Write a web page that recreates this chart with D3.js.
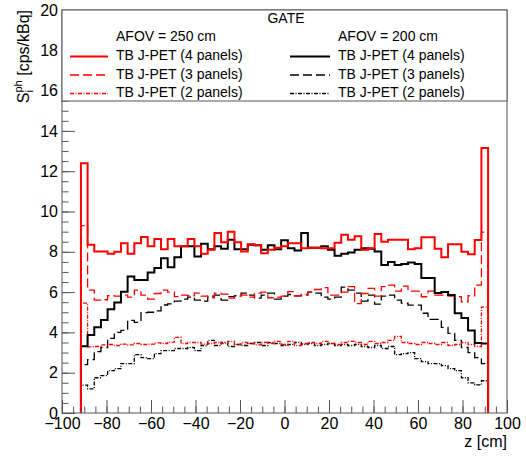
<!DOCTYPE html>
<html>
<head>
<meta charset="utf-8">
<script src="https://cdn.jsdelivr.net/npm/d3@7"></script>
<style>
body { margin:0; background:#fff; }
svg text { font-family: "Liberation Sans", Arial, Helvetica, sans-serif; fill:#000; }
</style>
</head>
<body>
<div id="canvas1"></div>
<script>

// histogram binning (same for all six curves)
var binLo = -91.5;
var binHi = 91.5;
var nBins = 61;

var xTicks = [-100, -80, -60, -40, -20, 0, 20, 40, 60, 80, 100];
var yTicks = [0, 2, 4, 6, 8, 10, 12, 14, 16, 18, 20];

var title = "GATE";
var afovHeads = ["AFOV = 250 cm", "AFOV = 200 cm"];
var panelLabels = ["TB J-PET (4 panels)", "TB J-PET (3 panels)", "TB J-PET (2 panels)"];

// AFOV = 250 cm (red)
var afov250_4 = [12.4, 8.35, 8.02, 8.02, 7.9, 8.0, 8.43, 7.9, 8.43, 8.73,
                 8.27, 8.63, 8.13, 8.63, 8.27, 8.27, 8.63, 8.27, 7.9, 8.1,
                 8.93, 8.47, 9.0, 8.47, 8.02, 8.37, 8.33, 7.93, 8.1, 8.2,
                 8.27, 8.43, 8.43, 8.18, 8.2, 8.2, 8.18, 8.18, 8.45, 8.85,
                 8.6, 8.77, 8.1, 8.18, 8.88, 8.5, 8.6, 8.6, 8.6, 8.13,
                 8.18, 8.72, 8.72, 8.15, 7.73, 8.38, 8.38, 8.0, 7.88, 8.59, 13.15];
var afov250_3 = [9.3, 6.1, 5.6, 5.62, 5.82, 5.8, 5.85, 5.75, 6.1, 5.85,
                 5.65, 5.93, 6.1, 6.0, 5.78, 5.85, 5.82, 5.95, 5.8, 5.72,
                 5.95, 5.9, 5.7, 5.8, 5.85, 5.75, 5.95, 6.0, 5.72, 5.75,
                 5.8, 6.02, 5.82, 5.88, 6.0, 6.13, 6.22, 5.85, 5.85, 6.0,
                 6.27, 5.43, 5.93, 6.18, 5.8, 6.27, 6.35, 6.05, 6.3, 6.05,
                 6.05, 5.77, 6.05, 5.85, 5.85, 5.8, 5.77, 5.52, 5.82, 6.35, 8.98];
var afov250_2 = [5.45, 3.28, 3.3, 3.38, 3.4, 3.35, 3.42, 3.38, 3.45, 3.4,
                 3.42, 3.48, 3.45, 3.52, 3.75, 3.45, 3.5, 3.5, 3.42, 3.45,
                 3.5, 3.45, 3.55, 3.4, 3.5, 3.45, 3.38, 3.5, 3.45, 3.55,
                 3.4, 3.55, 3.35, 3.45, 3.5, 3.45, 3.55, 3.45, 3.4, 3.5,
                 3.55, 3.5, 3.4, 3.55, 3.45, 3.5, 3.6, 3.8, 3.5, 3.45,
                 3.4, 3.5, 3.45, 3.4, 3.5, 3.35, 3.4, 3.5, 3.4, 3.3, 5.25];

// AFOV = 200 cm (black)
var afov200_4 = [3.31, 3.87, 4.25, 4.62, 5.15, 5.48, 6.02, 6.77, 6.6, 6.6,
                 6.97, 7.2, 7.68, 7.23, 7.73, 8.27, 8.27, 7.77, 8.4, 8.13,
                 8.27, 8.15, 8.6, 8.13, 8.13, 8.35, 8.32, 8.1, 8.32, 8.13,
                 8.57, 8.18, 8.07, 8.93, 8.2, 8.2, 8.27, 8.1, 7.8, 7.9,
                 7.97, 8.1, 8.18, 8.15, 8.02, 7.35, 7.5, 7.35, 7.4, 7.47,
                 7.4, 6.7, 6.7, 5.95, 6.0, 5.85, 4.95, 4.72, 4.1, 3.47, 3.45];
var afov200_3 = [2.4, 2.65, 3.05, 3.25, 3.7, 4.0, 4.1, 4.6, 4.5, 4.98,
                 5.0, 5.07, 5.36, 5.42, 5.55, 5.65, 5.75, 5.6, 5.55, 5.8,
                 5.85, 5.6, 5.78, 5.82, 5.95, 5.85, 5.7, 5.85, 5.95, 5.65,
                 5.8, 5.88, 5.82, 5.85, 6.0, 5.95, 5.75, 5.65, 5.75, 6.25,
                 6.1, 5.95, 5.55, 5.85, 5.4, 5.8, 5.85, 5.6, 5.45, 5.35,
                 5.35, 4.95, 4.65, 4.65, 4.25, 3.95, 3.6, 3.25, 3.0, 2.75, 2.45];
var afov200_2 = [1.38, 1.2, 1.75, 1.85, 2.1, 2.2, 2.45, 2.45, 2.9, 2.75,
                 2.7, 2.95, 3.1, 3.1, 3.2, 3.2, 3.25, 3.1, 3.35, 3.6,
                 3.35, 3.5, 3.3, 3.4, 3.35, 3.45, 3.5, 3.35, 3.5, 3.45,
                 3.35, 3.4, 3.5, 3.4, 3.45, 3.35, 3.4, 3.45, 3.35, 3.4,
                 3.35, 3.4, 3.3, 3.25, 3.35, 3.2, 3.3, 2.9, 2.95, 3.0,
                 2.7, 2.55, 2.45, 2.45, 2.35, 2.2, 2.1, 1.75, 1.5, 1.4, 1.6];


var W = 526, H = 457;
// frame (named so they do not clash with window.top etc.)
var frL = 62, frR = 507, frT = 10, frB = 413;

var svgContainer = d3.select("#canvas1").append("svg")
                     .attr("width", W)
                     .attr("height", H);

svgContainer.append("rect").attr("width", W).attr("height", H).style("fill", "white");

var x = d3.scaleLinear().domain([-100, 100]).range([frL, frR]);
var y = d3.scaleLinear().domain([0, 20]).range([frB, frT]);

// line styles for the three detector variants
var styles = [
    { w: 2,   dash: null },
    { w: 1.3, dash: "9,4" },
    { w: 1.3, dash: "4,1.5,1,1.5" }
];

var series = [
    { vals: afov200_3, color: "black", st: styles[1] },
    { vals: afov200_2, color: "black", st: styles[2] },
    { vals: afov250_3, color: "red",   st: styles[1] },
    { vals: afov250_2, color: "red",   st: styles[2] },
    { vals: afov200_4, color: "black", st: styles[0] },
    { vals: afov250_4, color: "red",   st: styles[0] }
];

var binW = (binHi - binLo) / nBins;

function histPoints(vals) {
    var pts = [[binLo, 0]];
    vals.forEach(function(v, i) {
        pts.push([binLo + i * binW, v]);
        pts.push([binLo + (i + 1) * binW, v]);
    });
    pts.push([binHi, 0]);
    return pts;
}

var line = d3.line()
             .x(function(d) { return x(d[0]); })
             .y(function(d) { return y(d[1]); });

// minor ticks
var axisG = svgContainer.append("g");
axisG.append("g")
     .attr("transform", "translate(0," + frB + ")")
     .call(d3.axisBottom(x).tickValues(d3.range(-100, 101, 5)).tickSize(-6.5).tickFormat(""));
axisG.append("g")
     .attr("transform", "translate(" + frL + ",0)")
     .call(d3.axisLeft(y).tickValues(d3.range(0, 20.1, 0.5)).tickSize(-6.5).tickFormat(""));

// major ticks + labels
axisG.append("g")
     .attr("transform", "translate(0," + frB + ")")
     .call(d3.axisBottom(x).tickValues(xTicks).tickSize(-13).tickPadding(5));
axisG.append("g")
     .attr("transform", "translate(" + frL + ",0)")
     .call(d3.axisLeft(y).tickValues(yTicks).tickSize(-13).tickPadding(4));

axisG.selectAll(".domain").remove();
axisG.selectAll(".tick line").attr("stroke", "#555");
axisG.selectAll(".tick text").attr("font-size", "16px").style("font-family", "'Liberation Sans', Arial, sans-serif");

// histograms
svgContainer.append("g").selectAll("path")
            .data(series)
            .enter()
            .append("path")
            .attr("d", function(d) { return line(histPoints(d.vals)); })
            .attr("fill", "none")
            .attr("stroke", function(d) { return d.color; })
            .attr("stroke-width", function(d) { return d.st.w; })
            .attr("stroke-dasharray", function(d) { return d.st.dash; })
            .attr("stroke-linejoin", "miter");

// frame
svgContainer.append("rect")
            .attr("x", frL).attr("y", frT)
            .attr("width", frR - frL).attr("height", frB - frT)
            .attr("fill", "none")
            .attr("stroke", "#555");

// legend box sits on top of the plot
var leg = svgContainer.append("g");
leg.append("rect")
   .attr("x", frL).attr("y", frT)
   .attr("width", frR - frL).attr("height", 91)
   .attr("fill", "white")
   .attr("stroke", "#555");

leg.append("text").text(title)
   .attr("x", 286).attr("y", 23)
   .attr("text-anchor", "middle")
   .attr("font-size", "14px");

var colX = [116, 338];
var lineX = [[70, 108], [290, 330]];
var rowY = [60, 78.5, 97];

afovHeads.forEach(function(h, c) {
    leg.append("text").text(h)
       .attr("x", colX[c]).attr("y", 41)
       .attr("font-size", "14px");

    panelLabels.forEach(function(lab, r) {
        var s = series.filter(function(d) {
            return d.color == (c == 0 ? "red" : "black") && d.st == styles[r];
        })[0];
        leg.append("line")
           .attr("x1", lineX[c][0]).attr("x2", lineX[c][1])
           .attr("y1", rowY[r] - 3.5).attr("y2", rowY[r] - 3.5)
           .attr("stroke", s.color)
           .attr("stroke-width", s.st.w)
           .attr("stroke-dasharray", s.st.dash);
        leg.append("text").text(lab)
           .attr("x", colX[c]).attr("y", rowY[r])
           .attr("font-size", "14px");
    });
});

// axis titles
svgContainer.append("text").text("z [cm]")
            .attr("x", frR).attr("y", 447)
            .attr("text-anchor", "end")
            .attr("font-size", "16px");

var yt = svgContainer.append("text")
                     .attr("transform", "translate(29," + frT + ") rotate(-90)")
                     .attr("text-anchor", "end")
                     .attr("font-size", "16px");
yt.append("tspan").text("S");
yt.append("tspan").text("i").attr("font-size", "11px").attr("dy", 4);
yt.append("tspan").text("ph").attr("font-size", "11px").attr("dx", -2.5).attr("dy", -11);
yt.append("tspan").text(" [cps/kBq]").attr("dy", 7);

</script>
</body>
</html>
